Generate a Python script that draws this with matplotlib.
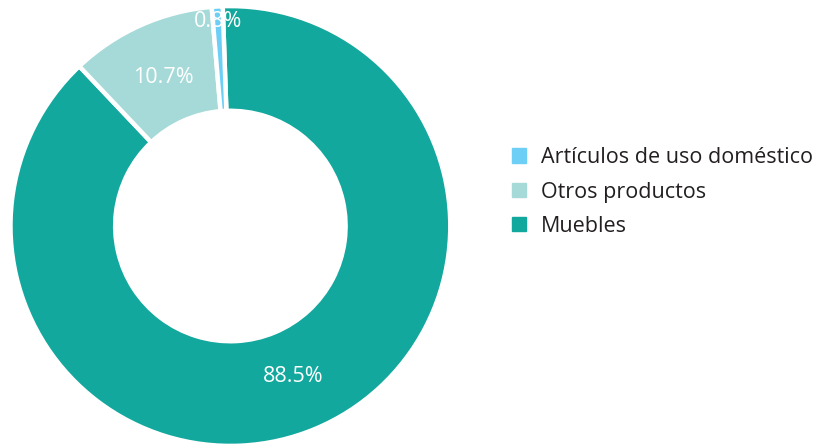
import matplotlib.pyplot as plt
import numpy as np

categories = ["Muebles", "Otros productos", "Artículos de uso doméstico"]
shares = [88.5, 10.7, 0.8]
colors = ["#13A89E", "#A6DAD8", "#6DCFF6"]

plt.rcParams['font.family'] = ['Open Sans', 'DejaVu Sans']

fig = plt.figure(figsize=(8.19, 4.46), dpi=100)
# pie axes: centre ~ (230, 226) px, radius ~220 px
ax = fig.add_axes([0.0128, 0.0, 0.537, 0.9865])

wedges, texts, autotexts = ax.pie(
    shares, colors=colors, startangle=92, counterclock=False,
    radius=1.0, autopct=lambda p: f"{p:.1f}%", pctdistance=0.74,
    wedgeprops=dict(width=0.476, edgecolor="white", linewidth=3.2),
    textprops=dict(color="white", fontsize=15.5))

# small slice label sits near the outer rim
x, y = autotexts[2].get_position()
r = np.hypot(x, y)
autotexts[2].set_position((x / r * 0.93, y / r * 0.93))

ax.set_xlim(-1, 1)
ax.set_ylim(-1, 1)
ax.set_aspect("equal")

# legend, reversed order like the reference
handles = [plt.Rectangle((0, 0), 1, 1, color=c) for c in colors[::-1]]
leg = fig.legend(handles, categories[::-1], loc="center left",
                 bbox_to_anchor=(0.6015, 0.5695), frameon=False,
                 handlelength=0.65, handleheight=0.65, handletextpad=0.7,
                 labelspacing=0.62, fontsize=15.5)
for t in leg.get_texts():
    t.set_color("#231F20")

plt.savefig("out.png", dpi=100)
